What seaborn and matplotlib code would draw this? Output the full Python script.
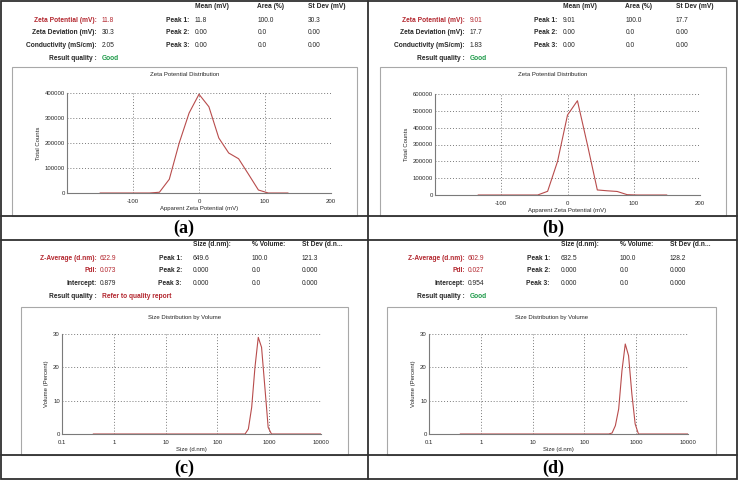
import seaborn as sns
import matplotlib.pyplot as plt
from matplotlib.lines import Line2D
from matplotlib.patches import Rectangle
from matplotlib.ticker import FixedLocator, FixedFormatter, NullFormatter

# ---- data read off the instrument reports ----
# (a) zeta potential distribution
zeta_mv_a = [-150, -135, -120, -105, -90, -75, -60, -45, -30, -15, 0, 15, 30, 45, 60, 75, 90, 105, 120, 135]
zeta_counts_a = [0, 0, 0, 0, 0, 0, 3000, 55000, 200000, 320000, 395000, 345000, 220000, 160000,
                 137000, 75000, 12000, 0, 0, 0]
# (b) zeta potential distribution
zeta_mv_b = [-135, -120, -105, -90, -75, -60, -45, -30, -15, 0, 15, 30, 45, 60, 75, 90, 105, 120, 135, 150]
zeta_counts_b = [0, 0, 0, 0, 0, 0, 0, 22000, 200000, 475000, 560000, 300000, 30000, 25000,
                 21000, 2000, 0, 0, 0, 0]
# (c), (d) size distribution by volume
size_nm = [0.4, 1, 10, 100, 295, 342, 396, 459, 531, 615, 712, 825, 955, 1106, 1281, 10000]
volume_c = [0, 0, 0, 0, 0, 0, 1.5, 8, 20, 29, 26, 14, 2, 0, 0, 0]
volume_d = [0, 0, 0, 0, 0, 0.3, 2.5, 7.5, 19, 27, 23.5, 12, 3, 0, 0, 0]

# summary tables
zeta_rows_a = [("Zeta Potential (mV):", "11.8"), ("Zeta Deviation (mV):", "30.3"),
               ("Conductivity (mS/cm):", "2.05")]
zeta_peaks_a = [("11.8", "100.0", "30.3"), ("0.00", "0.0", "0.00"), ("0.00", "0.0", "0.00")]
zeta_rows_b = [("Zeta Potential (mV):", "9.01"), ("Zeta Deviation (mV):", "17.7"),
               ("Conductivity (mS/cm):", "1.83")]
zeta_peaks_b = [("9.01", "100.0", "17.7"), ("0.00", "0.0", "0.00"), ("0.00", "0.0", "0.00")]
size_rows_c = [("Z-Average (d.nm):", "622.9"), ("PdI:", "0.073"), ("Intercept:", "0.879")]
size_peaks_c = [("649.6", "100.0", "121.3"), ("0.000", "0.0", "0.000"), ("0.000", "0.0", "0.000")]
size_rows_d = [("Z-Average (d.nm):", "602.9"), ("PdI:", "0.027"), ("Intercept:", "0.954")]
size_peaks_d = [("632.5", "100.0", "128.2"), ("0.000", "0.0", "0.000"), ("0.000", "0.0", "0.000")]
quality = ["Good", "Good", "Refer to quality report", "Good"]

zeta_ticks_a = [0, 100000, 200000, 300000, 400000]
zeta_ticks_b = [0, 100000, 200000, 300000, 400000, 500000, 600000]
size_ticks = [0.1, 1, 10, 100, 1000, 10000]
size_ticklabels = ["0.1", "1", "10", "100", "1000", "10000"]

sns.set_theme(style="white")
plt.rcParams['font.family'] = ['Liberation Sans', 'DejaVu Sans']
plt.rcParams['axes.unicode_minus'] = False

W, H = 738, 480
RED = '#b3262e'
GREEN = '#1c9a48'
INK = '#262626'
CURVE = '#b84c4c'
FS = 4.3       # chart text
FSH = 4.8      # report header text

fig = plt.figure(figsize=(W / 100, H / 100), dpi=100)
fig.patch.set_facecolor('white')


def ftext(x, y, s, **kw):
    kw.setdefault('fontsize', FSH)
    kw.setdefault('color', INK)
    fig.text(x / W, 1 - y / H, s, va='center', **kw)


def hline(y, x1=1, x2=737, lw=1.3, color='#303030'):
    fig.add_artist(Line2D([x1 / W, x2 / W], [1 - y / H, 1 - y / H], color=color, lw=lw))


def vline(x, y1=1, y2=479, lw=1.3, color='#303030'):
    fig.add_artist(Line2D([x / W, x / W], [1 - y1 / H, 1 - y2 / H], color=color, lw=lw))


def frame(x1, y1, x2, y2):
    fig.add_artist(Rectangle((x1 / W, 1 - y2 / H), (x2 - x1) / W, (y2 - y1) / H,
                             fill=False, edgecolor='#a8a8a8', lw=0.8))


def make_axes(x1, y1, x2, y2):
    ax = fig.add_axes([x1 / W, 1 - y2 / H, (x2 - x1) / W, (y2 - y1) / H])
    ax.set_facecolor('white')
    for s in ['top', 'right']:
        ax.spines[s].set_visible(False)
    for s in ['left', 'bottom']:
        ax.spines[s].set_color('#7a7a7a')
        ax.spines[s].set_linewidth(0.8)
    ax.grid(True, which='major', linestyle=(0, (1, 2)), color='#7a7a7a', linewidth=0.7)
    ax.tick_params(which='both', direction='in', length=2.5, width=0.6, color='#7a7a7a',
                   labelsize=FS, labelcolor=INK)
    ax.tick_params(axis='x', which='both', pad=4)
    ax.tick_params(axis='y', which='both', pad=1.5)
    ax.tick_params(which='minor', length=2)
    return ax


def zeta_header(ox, rows, peaks, q):
    for x, s in zip([195, 257, 308], ["Mean (mV)", "Area (%)", "St Dev (mV)"]):
        ftext(ox + x, 6, s, fontweight='bold')
    for i, ((lab, val), pk) in enumerate(zip(rows, peaks)):
        y = 20 + i * 12.7
        c = RED if i == 0 else INK
        ftext(ox + 97, y, lab, ha='right', fontweight='bold', color=c)
        ftext(ox + 102, y, val, color=c)
        ftext(ox + 189, y, f"Peak {i + 1}:", ha='right', fontweight='bold')
        for x, v in zip([195, 258, 308], pk):
            ftext(ox + x, y, v)
    ftext(ox + 97, 58, "Result quality :", ha='right', fontweight='bold')
    ftext(ox + 102, 58, q, fontweight='bold', color=GREEN if q == "Good" else RED)


def size_header(ox, rows, peaks, q):
    for x, s in zip([193, 252, 302], ["Size (d.nm):", "% Volume:", "St Dev (d.n..."]):
        ftext(ox + x, 244, s, fontweight='bold')
    for i, ((lab, val), pk) in enumerate(zip(rows, peaks)):
        y = 258 + i * 12.7
        c = RED if i < 2 else INK
        ftext(ox + 97, y, lab, ha='right', fontweight='bold', color=c)
        ftext(ox + 100, y, val, color=c)
        ftext(ox + 182, y, f"Peak {i + 1}:", ha='right', fontweight='bold')
        for x, v in zip([193, 252, 302], pk):
            ftext(ox + x, y, v)
    ftext(ox + 97, 296, "Result quality :", ha='right', fontweight='bold')
    ftext(ox + 102, 296, q, fontweight='bold', color=GREEN if q == "Good" else RED)


def zeta_plot(box, axbox, mv, counts, yticks):
    frame(*box)
    ftext((box[0] + box[2]) / 2, box[1] + 8, "Zeta Potential Distribution", ha='center', fontsize=FS)
    ax = make_axes(*axbox)
    sns.lineplot(x=mv, y=counts, ax=ax, color=CURVE, linewidth=0.8)
    ax.set_xlim(-200, 200)
    ax.set_ylim(0, yticks[-1])
    ax.xaxis.set_major_locator(FixedLocator([-100, 0, 100, 200]))
    ax.xaxis.set_minor_locator(FixedLocator([-150, -50, 50, 150]))
    ax.yaxis.set_major_locator(FixedLocator(yticks))
    ax.yaxis.set_minor_locator(FixedLocator([t + 50000 for t in yticks[:-1]]))
    ax.yaxis.set_major_formatter(FixedFormatter([str(t) for t in yticks]))
    ax.set_xlabel("Apparent Zeta Potential (mV)", fontsize=FS, color=INK, labelpad=2)
    ax.set_ylabel("Total Counts", fontsize=FS, color=INK, labelpad=3)
    return ax


def size_plot(box, axbox, sizes, vol):
    frame(*box)
    ftext((box[0] + box[2]) / 2, box[1] + 10, "Size Distribution by Volume", ha='center', fontsize=FS)
    ax = make_axes(*axbox)
    ax.set_xscale('log')
    sns.lineplot(x=sizes, y=vol, ax=ax, color=CURVE, linewidth=0.8)
    ax.set_xlim(0.1, 10000)
    ax.set_ylim(0, 30)
    ax.xaxis.set_major_locator(FixedLocator(size_ticks))
    ax.xaxis.set_major_formatter(FixedFormatter(size_ticklabels))
    ax.xaxis.set_minor_formatter(NullFormatter())
    ax.yaxis.set_major_locator(FixedLocator([0, 10, 20, 30]))
    ax.yaxis.set_minor_locator(FixedLocator([5, 15, 25]))
    ax.set_xlabel("Size (d.nm)", fontsize=FS, color=INK, labelpad=2)
    ax.set_ylabel("Volume (Percent)", fontsize=FS, color=INK, labelpad=3)
    return ax


# headers
zeta_header(0, zeta_rows_a, zeta_peaks_a, quality[0])
zeta_header(368, zeta_rows_b, zeta_peaks_b, quality[1])
size_header(0, size_rows_c, size_peaks_c, quality[2])
size_header(368, size_rows_d, size_peaks_d, quality[3])

# chart panels
zeta_plot((12, 67, 357, 216), (67, 93, 331, 193), zeta_mv_a, zeta_counts_a, zeta_ticks_a)
zeta_plot((380, 67, 726, 216), (435, 94, 700, 195), zeta_mv_b, zeta_counts_b, zeta_ticks_b)
size_plot((21, 307, 348, 455), (62, 334, 321, 434), size_nm, volume_c)
size_plot((387, 307, 716, 455), (429, 334, 688, 434), size_nm, volume_d)

# table frame lines
hline(216)
hline(240)
hline(455)
vline(368)
fig.add_artist(Rectangle((1 / W, 1 / H), (W - 2) / W, (H - 2) / H, fill=False,
                         edgecolor='#303030', lw=1.3))

# captions
for x, y, s in [(184, 228, "(a)"), (553, 228, "(b)"), (184, 468, "(c)"), (553, 468, "(d)")]:
    ftext(x, y, s, ha='center', fontsize=13, fontweight='bold', color='black',
          family=['Liberation Serif', 'DejaVu Serif'])

fig.savefig('out.png', dpi=100, facecolor='white')
